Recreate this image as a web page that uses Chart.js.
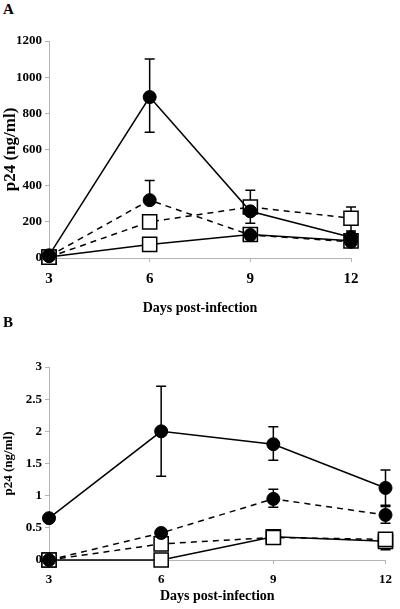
<!DOCTYPE html>
<html>
<head>
<meta charset="utf-8">
<script src="https://cdn.jsdelivr.net/npm/chart.js@4"></script>
<style>
  body {margin: 0; background: #fff; width: 400px; height: 609px; overflow: hidden; position: relative;}
  .panel {position: absolute; left: 0;}
  .letter {position: absolute; left: 3px; font: bold 15px 'Liberation Serif', serif; color: #000;}
</style>
</head>
<body>
<div class="letter" style="top: 1px">A</div>
<div class="panel" style="top: 0"><canvas id="chartA" width="400" height="320"></canvas></div>
<div class="letter" style="top: 314px">B</div>
<div class="panel" style="top: 330px"><canvas id="chartB" width="400" height="279"></canvas></div>
<script>
const days = ['3', '6', '9', '12']

// panel A, p24 in ng/ml
const aFilledSolid = [15, 890, 258, 115]
const aFilledDashed = [10, 320, 127, 90]
const aOpenDashed = [5, 200, 282, 220]
const aOpenSolid = [5, 75, 130, 95]
const aFilledSolidErr = [null, [695, 1100], null, null]
const aFilledDashedErr = [null, [320, 428], null, null]
const aOpenDashedErr = [null, null, [192, 375], [150, 282]]
const aTicks = [0, 200, 400, 600, 800, 1000, 1200]

// panel B, p24 in ng/ml
const bFilledSolid = [0.65, 2.0, 1.8, 1.12]
const bFilledDashed = [0, 0.42, 0.95, 0.7]
const bOpenDashed = [0, 0.25, 0.35, 0.32]
const bOpenSolid = [0, 0, 0.36, 0.29]
const bFilledSolidErr = [null, [1.3, 2.7], [1.55, 2.07], [0.85, 1.4]]
const bFilledDashedErr = [null, null, [0.82, 1.1], [0.57, 0.83]]
const bOpenSolidErr = [null, null, [0.36, 0.46], [0.16, 0.4]]
const bTicks = [0, 0.5, 1, 1.5, 2, 2.5, 3]

const serif = "'Liberation Serif', 'Times New Roman', serif"
const axisGray = '#b4b4b4'

/** Draws vertical error bars with caps, behind the markers. */
const errorBars = {
  id: 'errorBars',
  beforeDatasetsDraw(chart) {
    const {ctx} = chart
    const yScale = chart.scales.y
    chart.data.datasets.forEach((ds, i) => {
      if (!ds.errors) return
      const meta = chart.getDatasetMeta(i)
      ds.errors.forEach((err, j) => {
        if (!err) return
        const px = meta.data[j].x
        const lo = yScale.getPixelForValue(err[0])
        const hi = yScale.getPixelForValue(err[1])
        ctx.save()
        ctx.strokeStyle = '#000'
        ctx.lineWidth = 1.5
        ctx.beginPath()
        ctx.moveTo(px, lo)
        ctx.lineTo(px, hi)
        ctx.moveTo(px - 5, lo)
        ctx.lineTo(px + 5, lo)
        ctx.moveTo(px - 5, hi)
        ctx.lineTo(px + 5, hi)
        ctx.stroke()
        ctx.restore()
      })
    })
  },
}

function series(data, errors, filled, dashed) {
  return {
    data,
    errors,
    clip: false,
    borderColor: '#000',
    borderWidth: 1.5,
    borderDash: dashed ? [6, 5] : [],
    tension: 0,
    pointStyle: filled ? 'circle' : 'rect',
    pointRadius: filled ? 6.5 : 10,
    pointBackgroundColor: filled ? '#000' : '#fff',
    pointBorderColor: '#000',
    pointBorderWidth: filled ? 1 : 1.5,
  }
}

function makeChart(id, datasets, ticks, opts) {
  const tickValues = ticks
  return new Chart(id, {
    type: 'line',
    data: {labels: days, datasets},
    plugins: [errorBars],
    options: {
      responsive: false,
      animation: false,
      events: [],
      layout: {padding: {top: opts.top, right: opts.right, left: 0, bottom: 0}},
      plugins: {legend: {display: false}, tooltip: {enabled: false}},
      scales: {
        x: {
          type: 'category',
          offset: false,
          afterFit: scale => { scale.height = opts.xHeight },
          border: {color: axisGray, width: 1},
          grid: {drawOnChartArea: false, color: axisGray, tickLength: 4},
          ticks: {color: '#000', padding: opts.xTickPad, maxRotation: 0,
            font: {family: serif, weight: 'bold', size: opts.xTickSize}},
          title: {display: true, text: 'Days post-infection', color: '#000',
            padding: {top: 0, bottom: opts.titlePad},
            font: {family: serif, weight: 'bold', size: 14}},
        },
        y: {
          min: tickValues[0],
          max: tickValues[tickValues.length - 1],
          afterFit: scale => { scale.width = 49 },
          afterBuildTicks: scale => {
            scale.ticks = tickValues.map(value => ({value}))
          },
          border: {color: axisGray, width: 1},
          grid: {drawOnChartArea: false, color: axisGray, tickLength: 4},
          ticks: {color: '#000', padding: 3, callback: v => String(v),
            font: {family: serif, weight: 'bold', size: 13}},
          title: {display: true, text: 'p24 (ng/ml)', color: '#000',
            padding: {top: opts.yTitlePad, bottom: 0},
            font: {family: serif, weight: 'bold', size: opts.yTitleSize}},
        },
      },
    },
  })
}

makeChart('chartA', [
  series(aFilledSolid, aFilledSolidErr, true, false),
  series(aFilledDashed, aFilledDashedErr, true, true),
  series(aOpenDashed, aOpenDashedErr, false, true),
  series(aOpenSolid, null, false, false),
], aTicks, {top: 41, right: 49, xHeight: 62, xTickSize: 15, xTickPad: 8,
  titlePad: 3, yTitleSize: 17, yTitlePad: 0})

makeChart('chartB', [
  series(bFilledSolid, bFilledSolidErr, true, false),
  series(bFilledDashed, bFilledDashedErr, true, true),
  series(bOpenDashed, null, false, true),
  series(bOpenSolid, bOpenSolidErr, false, false),
], bTicks, {top: 37, right: 10, xHeight: 49, xTickSize: 13, xTickPad: 8,
  titlePad: 4, yTitleSize: 13, yTitlePad: 1})
</script>
</body>
</html>
